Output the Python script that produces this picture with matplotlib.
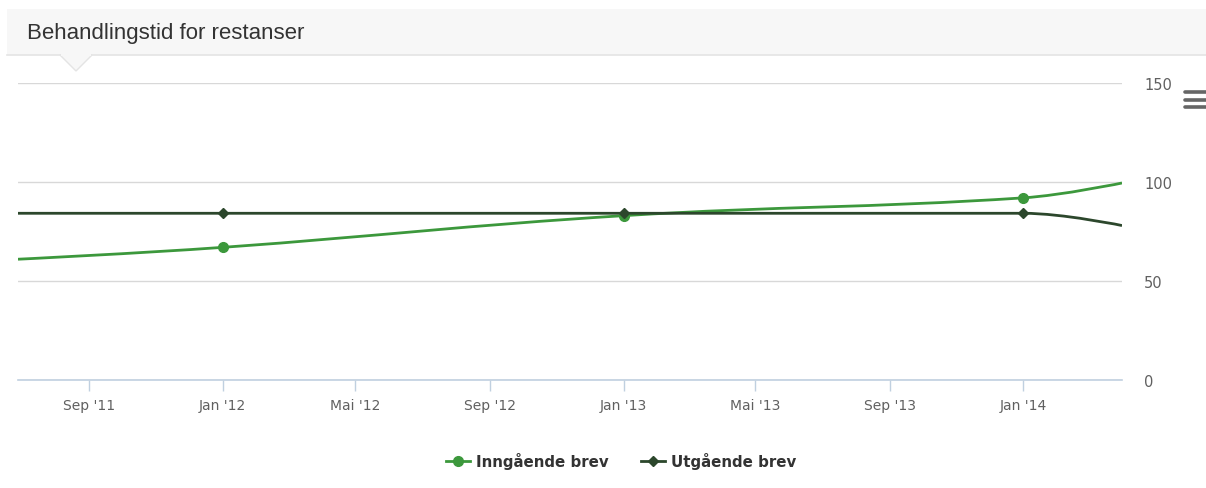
import matplotlib
matplotlib.use("Agg")
import matplotlib.pyplot as plt
import matplotlib.dates as mdates
from matplotlib.path import Path
from matplotlib.patches import PathPatch, Rectangle, Polygon
from matplotlib.lines import Line2D
from datetime import datetime

# data (first and last entries are where the curves leave the plot)
dates = [datetime(2011, 6, 28), datetime(2012, 1, 1), datetime(2013, 1, 1),
         datetime(2014, 1, 1), datetime(2014, 4, 1)]
inngaende = [61, 67, 83, 92, 99.5]
utgaende = [84.2, 84.2, 84.2, 84.2, 78]
marker_dates = [datetime(2012, 1, 1), datetime(2013, 1, 1), datetime(2014, 1, 1)]
inngaende_markers = [67, 83, 92]
utgaende_markers = [84.2, 84.2, 84.2]

tick_dates = [datetime(2011, 9, 1), datetime(2012, 1, 1), datetime(2012, 5, 1),
              datetime(2012, 9, 1), datetime(2013, 1, 1), datetime(2013, 5, 1),
              datetime(2013, 9, 1), datetime(2014, 1, 1)]
tick_labels = ["Sep '11", "Jan '12", "Mai '12", "Sep '12", "Jan '13", "Mai '13",
               "Sep '13", "Jan '14"]
y_ticks = [0, 50, 100, 150]

GREEN = "#3c983c"
DARK = "#2c472c"


def spline_path(xs, ys, smoothing=1.5):
    # highcharts style spline -> bezier path
    n = len(xs)
    left = [None] * n
    right = [None] * n
    d = smoothing + 1
    for i in range(1, n - 1):
        lx = (smoothing * xs[i] + xs[i - 1]) / d
        ly = (smoothing * ys[i] + ys[i - 1]) / d
        rx = (smoothing * xs[i] + xs[i + 1]) / d
        ry = (smoothing * ys[i] + ys[i + 1]) / d
        corr = (ry - ly) * (rx - xs[i]) / (rx - lx) + ys[i] - ry
        ly += corr
        ry += corr
        if ly > max(ys[i - 1], ys[i]):
            ly = max(ys[i - 1], ys[i])
            ry = 2 * ys[i] - ly
        elif ly < min(ys[i - 1], ys[i]):
            ly = min(ys[i - 1], ys[i])
            ry = 2 * ys[i] - ly
        if ry > max(ys[i + 1], ys[i]):
            ry = max(ys[i + 1], ys[i])
            ly = 2 * ys[i] - ry
        elif ry < min(ys[i + 1], ys[i]):
            ry = min(ys[i + 1], ys[i])
            ly = 2 * ys[i] - ry
        left[i] = (lx, ly)
        right[i] = (rx, ry)
    verts = [(xs[0], ys[0])]
    codes = [Path.MOVETO]
    for i in range(1, n):
        c1 = right[i - 1] or (xs[i - 1], ys[i - 1])
        c2 = left[i] or (xs[i], ys[i])
        verts += [c1, c2, (xs[i], ys[i])]
        codes += [Path.CURVE4] * 3
    return Path(verts, codes)


fig = plt.figure(figsize=(12.06, 4.89), dpi=100)
W, H = 1206, 489

# title box
fig.patches.append(Rectangle((7 / W, 1 - 56 / H), 1, 46 / H, transform=fig.transFigure,
                             facecolor="#f7f7f7", edgecolor="none", zorder=0))
fig.add_artist(Line2D([7 / W, 1], [1 - 56 / H, 1 - 56 / H], transform=fig.transFigure,
                      color="#e4e4e4", lw=1.2))
fig.patches.append(Polygon([(60 / W, 1 - 56 / H), (76 / W, 1 - 72 / H), (92 / W, 1 - 56 / H)],
                           closed=True, transform=fig.transFigure, facecolor="#f7f7f7",
                           edgecolor="#e4e4e4", lw=1.0, zorder=1))
fig.patches.append(Rectangle((61 / W, 1 - 57 / H), 30 / W, 2 / H, transform=fig.transFigure,
                             facecolor="#f7f7f7", edgecolor="none", zorder=2))
fig.text(27 / W, 1 - 34 / H, "Behandlingstid for restanser", family="Liberation Sans",
         fontsize=16, color="#333333", va="center", ha="left")

# menu icon
for yy in [93, 100.5, 108]:
    fig.add_artist(Line2D([1185 / W, 1206 / W], [1 - yy / H, 1 - yy / H],
                          transform=fig.transFigure, color="#666666", lw=2.6,
                          solid_capstyle="round"))

ax = fig.add_axes([18 / W, 1 - 381 / H, (1122 - 18) / W, (381 - 84) / H])
xn = mdates.date2num(dates)
ax.add_patch(PathPatch(spline_path(list(xn), inngaende), facecolor="none",
                       edgecolor=GREEN, lw=2, zorder=3))
ax.add_patch(PathPatch(spline_path(list(xn), utgaende), facecolor="none",
                       edgecolor=DARK, lw=2, zorder=3))
ax.plot(marker_dates, inngaende_markers, "o", color=GREEN, ms=7, zorder=4)
ax.plot(marker_dates, utgaende_markers, "D", color=DARK, ms=5.5, zorder=4)

ax.set_xlim(dates[0], dates[-1])
ax.set_ylim(0, 150)
ax.set_yticks(y_ticks)
ax.yaxis.tick_right()
ax.tick_params(axis="y", length=0, pad=16, labelsize=10.5, labelcolor="#606060")
for lab in ax.get_yticklabels():
    lab.set_family("DejaVu Sans")
    lab.set_horizontalalignment("left")
ax.set_xticks(tick_dates)
ax.set_xticklabels(tick_labels, family="DejaVu Sans")
ax.tick_params(axis="x", length=8, width=1, color="#c0d0e0", pad=5, labelsize=10,
               labelcolor="#606060")
ax.grid(axis="y", color="#d8d8d8", lw=1)
ax.set_axisbelow(True)
for s in ["top", "left", "right"]:
    ax.spines[s].set_visible(False)
ax.spines["bottom"].set_color("#c0d0e0")
ax.spines["bottom"].set_linewidth(1.2)

handles = [Line2D([], [], color=GREEN, lw=2, marker="o", ms=7),
           Line2D([], [], color=DARK, lw=2, marker="D", ms=5.5)]
fig.legend(handles, ["Inngående brev", "Utgående brev"], loc="center",
           bbox_to_anchor=(621 / W, 1 - 462 / H), ncol=2, frameon=False,
           prop={"family": "DejaVu Sans", "weight": "bold", "size": 10.8},
           labelcolor="#333333", handlelength=1.6, handletextpad=0.4, columnspacing=2.2)

fig.savefig("out.png", dpi=100)
